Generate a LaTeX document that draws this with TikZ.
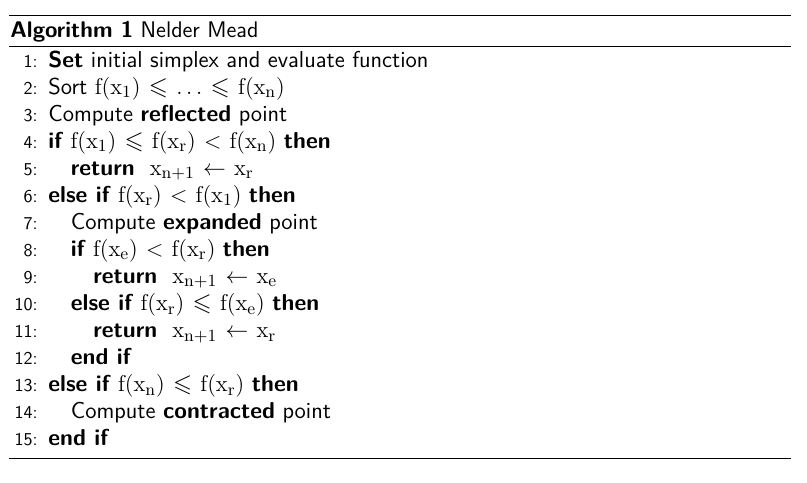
\documentclass[tikz,border=0pt]{standalone}
\usepackage[no-math]{fontspec}
\usepackage{amssymb}
\renewcommand{\familydefault}{\sfdefault}
\newcommand{\vx}{\mathrm{x}}
\newcommand{\fn}{\mathrm{f}}
\newcommand{\mth}[1]{{\fontsize{13}{15}\selectfont\thickmuskip=6.5mu plus 2mu$#1$}}
\begin{document}
\begin{tikzpicture}[x=0.526pt,y=-0.526pt,
  linetext/.style={anchor=base west,inner sep=0pt,font=\sffamily\fontsize{12.1}{14}\selectfont},
  num/.style={anchor=base east,inner sep=0pt,font=\sffamily\fontsize{9.5}{11}\selectfont},
  captext/.style={anchor=base west,inner sep=0pt,font=\sffamily\fontsize{11.9}{14}\selectfont},
  toprule/.style={line width=0.7pt},
  midrule/.style={line width=0.4pt}]
\useasboundingbox (0,0) rectangle (807,483);
\coordinate (tl) at (9,15.5);
\coordinate (tr) at (791,15.5);
\coordinate (ml) at (9,46);
\coordinate (mr) at (791,46);
\coordinate (bl) at (9,458);
\coordinate (br) at (791,458);
\draw[toprule] (tl) -- (tr);
\draw[midrule] (ml) -- (mr);
\draw[midrule] (bl) -- (br);
\node[captext] (caption) at (10,37) {\textbf{Algorithm 1} Nelder Mead};
\foreach \i/\lv/\txt in {
 1/0/{\textbf{Set} initial simplex and evaluate function},
 2/0/{Sort \mth{\fn(\vx_1) \leqslant \ldots \leqslant \fn(\vx_\mathrm{n})}},
 3/0/{Compute \textbf{reflected} point},
 4/0/{\textbf{if} \mth{\fn(\vx_1)\leqslant \fn(\vx_\mathrm{r}) < \fn(\vx_\mathrm{n})} \textbf{then}},
 5/1/{\textbf{return} \ \mth{\vx_{\mathrm{n}+1}\gets \vx_\mathrm{r}}},
 6/0/{\textbf{else if} \mth{\fn(\vx_\mathrm{r})<\fn(\vx_1)} \textbf{then}},
 7/1/{Compute \textbf{expanded} point},
 8/1/{\textbf{if} \mth{\fn(\vx_\mathrm{e})<\fn(\vx_\mathrm{r})} \textbf{then}},
 9/2/{\textbf{return} \ \mth{\vx_{\mathrm{n}+1}\gets \vx_\mathrm{e}}},
 10/1/{\textbf{else if} \mth{\fn(\vx_\mathrm{r})\leqslant \fn(\vx_\mathrm{e})} \textbf{then}},
 11/2/{\textbf{return} \ \mth{\vx_{\mathrm{n}+1}\gets \vx_\mathrm{r}}},
 12/1/{\textbf{end if}},
 13/0/{\textbf{else if} \mth{\fn(\vx_\mathrm{n})\leqslant \fn(\vx_\mathrm{r})} \textbf{then}},
 14/1/{Compute \textbf{contracted} point},
 15/0/{\textbf{end if}}}{
 \node[num] (n\i) at (38,{67+27.07*(\i-1)}) {\i:};
 \node[linetext] (l\i) at ({48+22.5*\lv},{67+27.07*(\i-1)}) {\txt};
}
\end{tikzpicture}
\end{document}
